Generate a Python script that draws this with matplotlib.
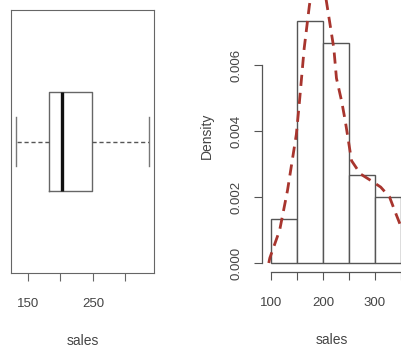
from matplotlib import pyplot as plt
import numpy as np

# boxplot stats
box_low = 132
box_q1 = 183
box_med = 203
box_q3 = 248
box_high = 336
box_ticks = [150, 200, 250, 300]
box_ticklabels = ["150", "", "250", ""]

# histogram
bin_edges = [100, 150, 200, 250, 300, 350]
bin_counts = [2, 11, 10, 4, 3]
hist_xticks = [100, 150, 200, 250, 300, 350]
hist_xticklabels = ["100", "", "200", "", "300", ""]
hist_yticks = [0.0, 0.002, 0.004, 0.006]
hist_yticklabels = ["0.000", "0.002", "0.004", "0.006"]

# density curve
dens_x = [96, 98, 117, 132, 141, 149, 155, 164, 174, 191, 208, 215, 221, 226,
          236, 243, 249, 255, 272, 292, 311, 328, 340, 350]
dens_y = [0.0, 0.00015, 0.0010, 0.0022, 0.0031, 0.0039, 0.0049, 0.0065, 0.0078,
          0.0095, 0.0078, 0.0071, 0.0065, 0.0056, 0.0049, 0.0043, 0.0037, 0.0031,
          0.0027, 0.0025, 0.0023, 0.0020, 0.0015, 0.0011]

TXT = "#444444"
LINE = "#555555"


def go():
    plt.rcParams["font.family"] = ["Liberation Sans", "DejaVu Sans"]
    fig = plt.figure(figsize=(4.01, 3.49), dpi=100)
    W, H = 401, 349

    ax1 = fig.add_axes([11 / W, 1 - 273 / H, 143 / W, 263 / H])
    _draw_box(ax1)

    ax2 = fig.add_axes([262 / W, 1 - 272 / H, (W - 262) / W, 272 / H])
    _draw_hist(ax2)

    fig.savefig("out.png", dpi=100)


def _draw_box(ax):
    stats = [{"whislo": box_low, "q1": box_q1, "med": box_med,
              "q3": box_q3, "whishi": box_high, "fliers": []}]
    ax.bxp(stats, positions=[1], widths=0.41, vert=False, capwidths=0.2,
           boxprops=dict(color="#666666", lw=1),
           medianprops=dict(color="#111111", lw=2.4),
           whiskerprops=dict(color=LINE, lw=1, linestyle=(0, (3, 2))),
           capprops=dict(color="#777777", lw=1))
    ax.set_xlim(124, 344)
    ax.set_ylim(0.46, 1.54)
    for s in ax.spines.values():
        s.set_color("#666666")
    ax.set_yticks([])
    ax.set_xticks(box_ticks)
    ax.set_xticklabels(box_ticklabels)
    ax.tick_params(axis="x", length=6, width=0.8, color="#666666",
                   labelsize=9.5, labelcolor=TXT, pad=12)
    ax.set_xlabel("sales", fontsize=10, color=TXT, labelpad=17)


def _draw_hist(ax):
    n = sum(bin_counts)
    widths = np.diff(bin_edges)
    dens = np.array(bin_counts) / (n * widths)
    ax.bar(bin_edges[:-1], dens, width=widths, align="edge",
           facecolor="white", edgecolor=LINE, lw=1)
    ax.plot(dens_x, dens_y, color="#A8352E", lw=2, linestyle=(0, (4, 2.5)))

    ax.set_xlim(83, 100 + (401 - 271) / 0.53)
    ax.set_ylim(-0.000273, 263 / 33000)
    for s in ["top", "right"]:
        ax.spines[s].set_visible(False)
    ax.spines["bottom"].set_bounds(100, 350)
    ax.spines["left"].set_bounds(0, 0.006)
    for s in ["bottom", "left"]:
        ax.spines[s].set_color(LINE)
        ax.spines[s].set_linewidth(0.9)
    ax.set_xticks(hist_xticks)
    ax.set_xticklabels(hist_xticklabels)
    ax.set_yticks(hist_yticks)
    ax.set_yticklabels(hist_yticklabels, rotation=90, va="center")
    ax.tick_params(length=6, width=0.8, color=LINE, labelsize=9.5,
                   labelcolor=TXT)
    ax.tick_params(axis="x", pad=12)
    ax.tick_params(axis="y", pad=8)
    ax.set_xlabel("sales", fontsize=10, color=TXT, labelpad=17)
    ax.set_ylabel("Density", fontsize=10, color=TXT, labelpad=12)
    ax.patch.set_alpha(0)


go()
